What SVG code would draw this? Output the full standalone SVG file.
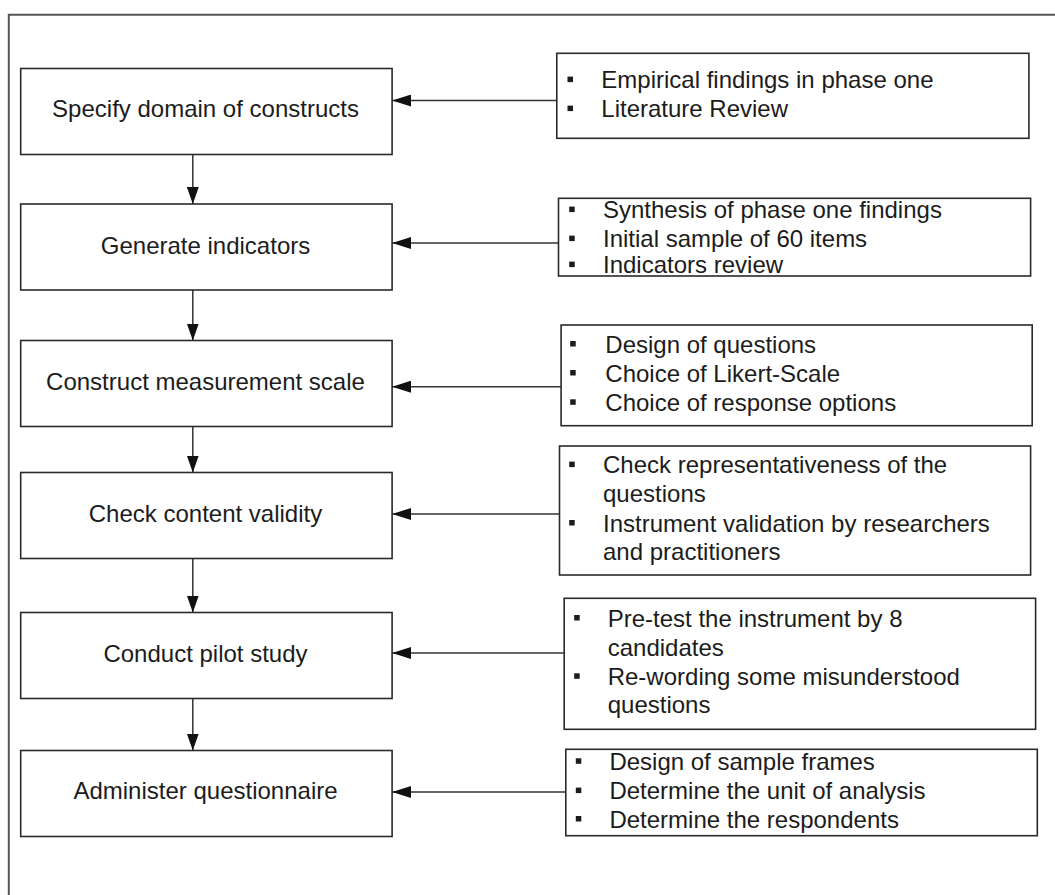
<svg xmlns="http://www.w3.org/2000/svg" width="1055" height="895" viewBox="0 0 1055 895">
<defs>
<style>
.box{fill:#fff;stroke:#2a2a2a;stroke-width:1.6}
.frame{fill:none;stroke:#555;stroke-width:2}
.t{font-family:"Liberation Sans",Arial,sans-serif;font-size:24px;fill:#1c1c1c}
.c{text-anchor:middle}
.con{fill:none;stroke:#333;stroke-width:1.5}
.b{fill:#1c1c1c}
</style>
<marker id="ah" markerUnits="userSpaceOnUse" markerWidth="19" markerHeight="12" refX="19" refY="6" orient="auto">
<path d="M0,0 L19,6 L0,12 z" fill="#111"/>
</marker>
<marker id="av" markerUnits="userSpaceOnUse" markerWidth="17" markerHeight="12" refX="17" refY="6" orient="auto">
<path d="M0,0 L17,6 L0,12 z" fill="#111"/>
</marker>
</defs>
<rect width="1055" height="895" fill="#fff"/>
<path class="frame" d="M8.8,895 L8.8,14.7 L1055,14.7"/>

<g id="connectors">
<line class="con" x1="192.8" y1="154.5" x2="192.8" y2="204" marker-end="url(#av)"/>
<line class="con" x1="192.8" y1="290" x2="192.8" y2="340.5" marker-end="url(#av)"/>
<line class="con" x1="192.8" y1="426.5" x2="192.8" y2="472.5" marker-end="url(#av)"/>
<line class="con" x1="192.8" y1="558.5" x2="192.8" y2="612.5" marker-end="url(#av)"/>
<line class="con" x1="192.8" y1="698.5" x2="192.8" y2="750.5" marker-end="url(#av)"/>
<line class="con" x1="556.8" y1="100.5" x2="392.1" y2="100.5" marker-end="url(#ah)"/>
<line class="con" x1="558.5" y1="243" x2="392.1" y2="243" marker-end="url(#ah)"/>
<line class="con" x1="561.1" y1="386.7" x2="392.1" y2="386.7" marker-end="url(#ah)"/>
<line class="con" x1="559.5" y1="514" x2="392.1" y2="514" marker-end="url(#ah)"/>
<line class="con" x1="564.2" y1="653" x2="392.1" y2="653" marker-end="url(#ah)"/>
<line class="con" x1="565.8" y1="792" x2="392.1" y2="792" marker-end="url(#ah)"/>
</g>

<g id="step1">
<rect class="box" x="20.7" y="68.5" width="371.4" height="86"/>
<text class="t c" x="205.5" y="117.3">Specify domain of constructs</text>
</g>
<g id="step2">
<rect class="box" x="20.7" y="204" width="371.4" height="86"/>
<text class="t c" x="205.5" y="254">Generate indicators</text>
</g>
<g id="step3">
<rect class="box" x="20.7" y="340.5" width="371.4" height="86"/>
<text class="t c" x="205.5" y="390">Construct measurement scale</text>
</g>
<g id="step4">
<rect class="box" x="20.7" y="472.5" width="371.4" height="86"/>
<text class="t c" x="205.5" y="521.7">Check content validity</text>
</g>
<g id="step5">
<rect class="box" x="20.7" y="612.5" width="371.4" height="86"/>
<text class="t c" x="205.5" y="662.3">Conduct pilot study</text>
</g>
<g id="step6">
<rect class="box" x="20.7" y="750.5" width="371.4" height="86"/>
<text class="t c" x="205.5" y="799.3">Administer questionnaire</text>
</g>

<g id="input1">
<rect class="box" x="556.8" y="53.3" width="472.1" height="85"/>
<rect class="b" x="567.5" y="76.6" width="5.5" height="5.5"/>
<rect class="b" x="567.5" y="105.6" width="5.5" height="5.5"/>
<text class="t" x="601.3" y="88.3">Empirical findings in phase one</text>
<text class="t" x="601.3" y="117.3">Literature Review</text>
</g>
<g id="input2">
<rect class="box" x="558.5" y="198.3" width="472.1" height="77.7"/>
<rect class="b" x="569.2" y="206.6" width="5.5" height="5.5"/>
<rect class="b" x="569.2" y="235.6" width="5.5" height="5.5"/>
<rect class="b" x="569.2" y="261.6" width="5.5" height="5.5"/>
<text class="t" x="603" y="218.3">Synthesis of phase one findings</text>
<text class="t" x="603" y="247.3">Initial sample of 60 items</text>
<text class="t" x="603" y="273.3">Indicators review</text>
</g>
<g id="input3">
<rect class="box" x="561.1" y="325" width="471.1" height="100.7"/>
<rect class="b" x="570.2" y="341" width="5.5" height="5.5"/>
<rect class="b" x="570.2" y="370" width="5.5" height="5.5"/>
<rect class="b" x="570.2" y="399.3" width="5.5" height="5.5"/>
<text class="t" x="605.3" y="352.7">Design of questions</text>
<text class="t" x="605.3" y="381.7">Choice of Likert-Scale</text>
<text class="t" x="605.3" y="411">Choice of response options</text>
</g>
<g id="input4">
<rect class="box" x="559.5" y="446" width="471.1" height="129"/>
<rect class="b" x="569.2" y="461.6" width="5.5" height="5.5"/>
<rect class="b" x="569.2" y="520" width="5.5" height="5.5"/>
<text class="t" x="603" y="473.3">Check representativeness of the</text>
<text class="t" x="603" y="501.7">questions</text>
<text class="t" x="603" y="531.7">Instrument validation by researchers</text>
<text class="t" x="603" y="560">and practitioners</text>
</g>
<g id="input5">
<rect class="box" x="564.2" y="598.3" width="471.4" height="131"/>
<rect class="b" x="574.2" y="615" width="5.5" height="5.5"/>
<rect class="b" x="574.2" y="673.3" width="5.5" height="5.5"/>
<text class="t" x="607.7" y="626.7">Pre-test the instrument by 8</text>
<text class="t" x="607.7" y="656">candidates</text>
<text class="t" x="607.7" y="685">Re-wording some misunderstood</text>
<text class="t" x="607.7" y="713.3">questions</text>
</g>
<g id="input6">
<rect class="box" x="565.8" y="749.3" width="471.5" height="86.4"/>
<rect class="b" x="575.8" y="758.3" width="5.5" height="5.5"/>
<rect class="b" x="575.8" y="787.6" width="5.5" height="5.5"/>
<rect class="b" x="575.8" y="816" width="5.5" height="5.5"/>
<text class="t" x="609.4" y="770">Design of sample frames</text>
<text class="t" x="609.4" y="799.3">Determine the unit of analysis</text>
<text class="t" x="609.4" y="827.7">Determine the respondents</text>
</g>
</svg>
